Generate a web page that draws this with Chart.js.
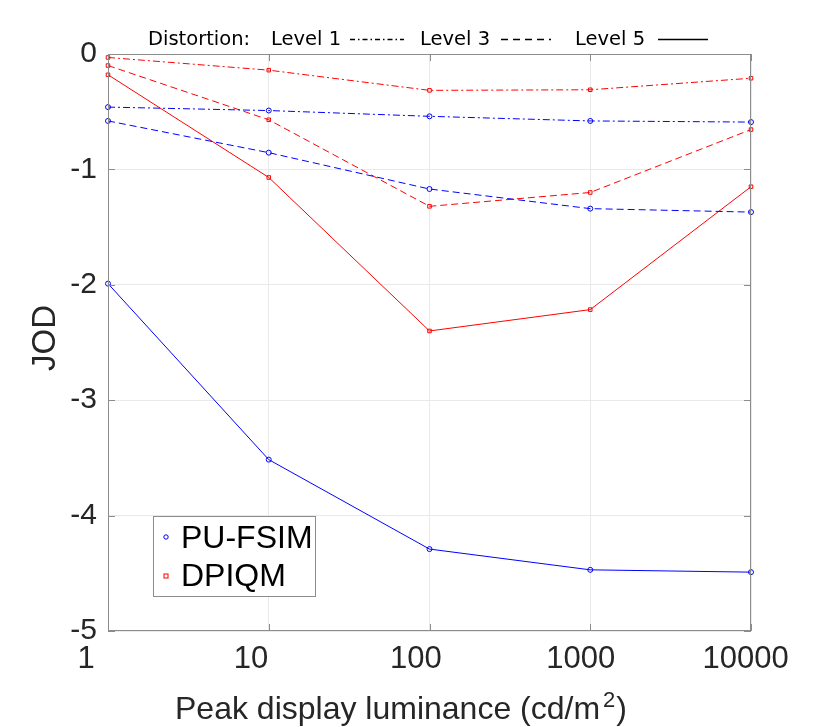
<!DOCTYPE html>
<html lang="en">
<head>
  <meta charset="UTF-8">
  <title>JOD vs peak display luminance</title>
  <style>
    html, body { margin: 0; padding: 0; background: white; }
    #chart { display: block; }
  </style>
</head>
<body>
  <canvas id="chart" width="830" height="727"></canvas>

  <script src="https://cdn.jsdelivr.net/npm/chart.js"></script>
  <script>
    // data
    const luminance = [1, 10, 100, 1000, 10000];
    const xTicks = [1, 10, 100, 1000, 10000];
    const yTicks = [0, -1, -2, -3, -4, -5];

    const puFsimL1 = [-0.46, -0.49, -0.54, -0.58, -0.59];
    const puFsimL3 = [-0.58, -0.855, -1.17, -1.34, -1.37];
    const puFsimL5 = [-1.99, -3.515, -4.29, -4.47, -4.49];
    const dpiqmL1 = [-0.03, -0.14, -0.315, -0.31, -0.21];
    const dpiqmL3 = [-0.10, -0.57, -1.32, -1.20, -0.655];
    const dpiqmL5 = [-0.18, -1.07, -2.40, -2.215, -1.15];

    const metrics = ['PU-FSIM', 'DPIQM'];
    const levels = ['Level 1', 'Level 3', 'Level 5'];

    const BLUE = '#0000ff';
    const RED = '#ff0000';
    const AXIS = '#8c8c8c';
    const GRID = '#e9e9e9';
    const TEXT = '#262626';
    const dashes = {
      'Level 1': [7, 3, 2, 3],
      'Level 3': [7, 4],
      'Level 5': []
    };

    function series(values, metric, level) {
      const blue = metric === 'PU-FSIM';
      return {
        label: metric + ' ' + level,
        data: luminance.map((x, i) => ({ x: x, y: values[i] })),
        borderColor: blue ? BLUE : RED,
        backgroundColor: 'rgba(0,0,0,0)',
        borderWidth: 1,
        borderDash: dashes[level],
        pointStyle: blue ? 'circle' : 'rect',
        pointRadius: 2.5,
        pointBorderWidth: 1,
        pointBorderColor: blue ? BLUE : RED,
        pointBackgroundColor: 'rgba(0,0,0,0)',
        tension: 0,
        clip: false
      };
    }

    // frame, inner ticks, x labels, legends and axis titles
    const decorations = {
      id: 'decorations',
      afterDraw(chart) {
        const ctx = chart.ctx;
        const a = chart.chartArea;
        const xs = chart.scales.x, ys = chart.scales.y;
        ctx.save();

        // box + inward ticks
        ctx.strokeStyle = AXIS;
        ctx.lineWidth = 1;
        ctx.setLineDash([]);
        ctx.strokeRect(a.left + 0.5, a.top + 0.5, a.right - a.left - 1, a.bottom - a.top - 1);
        ctx.beginPath();
        xTicks.forEach(v => {
          const px = Math.round(xs.getPixelForValue(v)) + 0.5;
          ctx.moveTo(px, a.top); ctx.lineTo(px, a.top + 7);
          ctx.moveTo(px, a.bottom); ctx.lineTo(px, a.bottom - 7);
        });
        yTicks.forEach(v => {
          const py = Math.round(ys.getPixelForValue(v)) + 0.5;
          ctx.moveTo(a.left, py); ctx.lineTo(a.left + 7, py);
          ctx.moveTo(a.right, py); ctx.lineTo(a.right - 7, py);
        });
        ctx.stroke();

        // x tick labels (the original sits them slightly left, drifting less to the right)
        ctx.fillStyle = TEXT;
        ctx.font = '31px "Liberation Sans"';
        ctx.textAlign = 'center';
        ctx.textBaseline = 'alphabetic';
        xTicks.forEach(v => {
          const px = xs.getPixelForValue(v);
          ctx.fillText(String(v), a.left - 22 + (px - a.left) * 1.026, 668);
        });

        // top legend for line styles
        ctx.fillStyle = '#000';
        ctx.font = '19.5px "DejaVu Sans"';
        ctx.textAlign = 'left';
        ctx.fillText('Distortion:', 148, 45);
        const styleKey = [
          { text: levels[0], tx: 271, x0: 350, x1: 404, dash: [5, 3, 1.5, 3] },
          { text: levels[1], tx: 420, x0: 501, x1: 551, dash: [7, 5] },
          { text: levels[2], tx: 575, x0: 658, x1: 708, dash: [] }
        ];
        styleKey.forEach(k => {
          ctx.fillText(k.text, k.tx, 45);
          ctx.beginPath();
          ctx.strokeStyle = '#000';
          ctx.lineWidth = 1.4;
          ctx.setLineDash(k.dash);
          ctx.moveTo(k.x0, 39.5); ctx.lineTo(k.x1, 39.5);
          ctx.stroke();
        });
        ctx.setLineDash([]);

        // metric legend box
        ctx.fillStyle = '#fff';
        ctx.fillRect(153, 516, 162, 80);
        ctx.strokeStyle = AXIS;
        ctx.lineWidth = 1;
        ctx.strokeRect(153.5, 516.5, 162, 80);
        ctx.strokeStyle = BLUE;
        ctx.beginPath(); ctx.arc(166, 537, 2.2, 0, Math.PI * 2); ctx.stroke();
        ctx.strokeStyle = RED;
        ctx.strokeRect(164, 574, 4, 4);
        ctx.fillStyle = '#000';
        ctx.font = '32px "Liberation Sans"';
        ctx.fillText(metrics[0], 181, 548);
        ctx.fillText(metrics[1], 181, 586);

        // y axis title
        ctx.fillStyle = TEXT;
        ctx.font = '33px "Liberation Sans"';
        ctx.save();
        ctx.translate(46, 338);
        ctx.rotate(-Math.PI / 2);
        ctx.textAlign = 'center';
        ctx.textBaseline = 'middle';
        ctx.fillText('JOD', 0, 0);
        ctx.restore();

        // x axis title with superscript
        const main = 'Peak display luminance (cd/m';
        ctx.font = '32px "Liberation Sans"';
        const w1 = ctx.measureText(main).width;
        const w3 = ctx.measureText(')').width;
        ctx.font = '22px "Liberation Sans"';
        const w2 = ctx.measureText('2').width + 4;
        const x = 401 - (w1 + w2 + w3) / 2;
        ctx.textAlign = 'left';
        ctx.font = '32px "Liberation Sans"';
        ctx.fillText(main, x, 719);
        ctx.font = '22px "Liberation Sans"';
        ctx.fillText('2', x + w1 + 3, 707);
        ctx.font = '32px "Liberation Sans"';
        ctx.fillText(')', x + w1 + w2, 719);

        ctx.restore();
      }
    };

    new Chart(document.getElementById('chart'), {
      type: 'line',
      data: {
        datasets: [
          series(puFsimL1, 'PU-FSIM', 'Level 1'),
          series(puFsimL3, 'PU-FSIM', 'Level 3'),
          series(puFsimL5, 'PU-FSIM', 'Level 5'),
          series(dpiqmL1, 'DPIQM', 'Level 1'),
          series(dpiqmL3, 'DPIQM', 'Level 3'),
          series(dpiqmL5, 'DPIQM', 'Level 5')
        ]
      },
      options: {
        responsive: false,
        animation: false,
        devicePixelRatio: 1,
        layout: { padding: { top: 54, right: 79, left: 0, bottom: 0 } },
        plugins: {
          legend: { display: false },
          tooltip: { enabled: false }
        },
        scales: {
          x: {
            type: 'logarithmic',
            min: 1,
            max: 10000,
            afterBuildTicks: s => { s.ticks = xTicks.map(v => ({ value: v })); },
            afterFit: s => { s.height = 96; },
            grid: { color: GRID, drawTicks: false },
            border: { display: false },
            ticks: { display: false }
          },
          y: {
            min: -5,
            max: 0,
            afterBuildTicks: s => { s.ticks = yTicks.map(v => ({ value: v })); },
            afterFit: s => { s.width = 108; },
            grid: { color: GRID, drawTicks: false },
            border: { display: false },
            ticks: {
              color: TEXT,
              font: { family: 'Liberation Sans', size: 30 },
              padding: 11,
              callback: v => String(v)
            }
          }
        }
      },
      plugins: [decorations]
    });
  </script>
</body>
</html>
